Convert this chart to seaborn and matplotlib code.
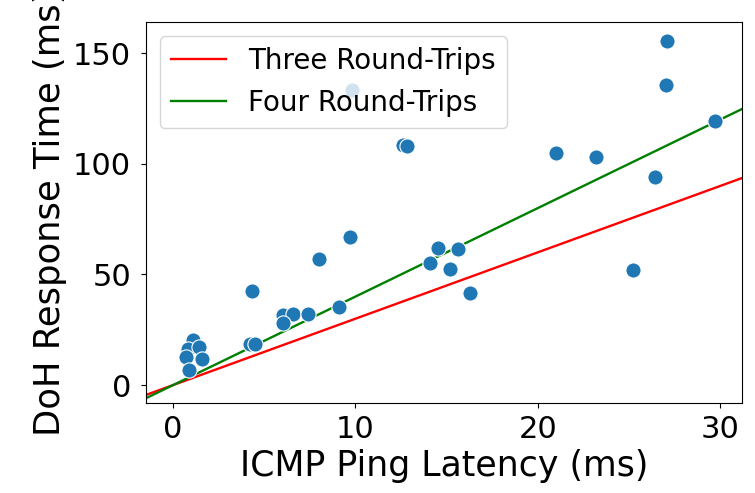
import numpy as np
import seaborn as sns
from matplotlib import pyplot as plt

# ping latency (ms) vs DoH response time (ms)
ping_ms = [27.1, 27.0, 29.7, 9.8, 12.6, 12.8, 21.0, 23.2, 26.4, 25.2,
           9.7, 8.0, 14.5, 15.6, 14.1, 15.2, 16.3, 4.3, 9.1, 6.0,
           6.6, 7.4, 6.0, 4.2, 4.5, 1.1, 0.8, 1.4, 1.6, 0.7, 0.9]
doh_ms = [155.5, 135.5, 119.5, 133.5, 108.7, 107.9, 105.0, 103.2, 94.0, 52.0,
          66.7, 57.0, 62.0, 61.5, 55.0, 52.3, 41.5, 42.4, 35.5, 31.5,
          32.2, 32.0, 28.2, 18.4, 18.7, 20.3, 16.5, 17.3, 12.0, 12.8, 6.8]

# reference lines: response = n * ping
trip_names = ['Three Round-Trips', 'Four Round-Trips']
trip_counts = [3, 4]
trip_colors = ['red', 'green']
line_x = np.array([-5, 35])

fig, ax = plt.subplots(figsize=(7.55, 4.93), dpi=100)

sns.scatterplot(x=ping_ms, y=doh_ms, s=120, color='#1f77b4',
                edgecolor='white', linewidth=0.8, ax=ax, zorder=3)

for name, n, c in zip(trip_names, trip_counts, trip_colors):
    sns.lineplot(x=line_x, y=n * line_x, color=c, linewidth=1.7,
                 label=name, ax=ax, zorder=2)

ax.set_xlim(-1.5, 31.2)
ax.set_ylim(-8, 164)
ax.set_xticks([0, 10, 20, 30])
ax.set_yticks([0, 50, 100, 150])
ax.tick_params(labelsize=22)
ax.tick_params(axis='y', pad=7)
ax.tick_params(axis='x', pad=5)
ax.set_xlabel('ICMP Ping Latency (ms)', fontsize=25)
ax.set_ylabel('DoH Response Time (ms)', fontsize=25.5)
ax.legend(loc='upper left', fontsize=20, framealpha=0.8)

plt.subplots_adjust(left=0.193, right=0.983, top=0.955, bottom=0.183)
plt.savefig('out.png', dpi=100)
